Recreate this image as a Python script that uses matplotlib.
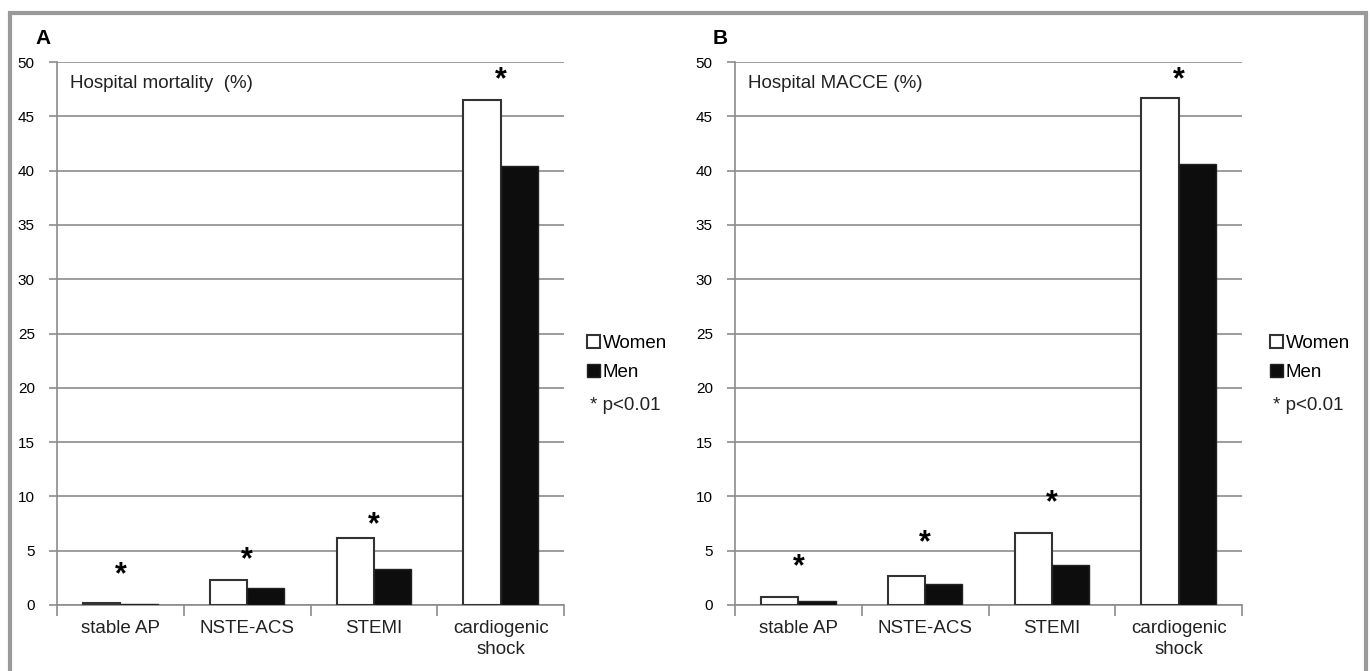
import numpy as np
import matplotlib.pyplot as plt
from matplotlib.patches import Rectangle, Patch

plt.rcParams['font.family'] = ['Liberation Sans', 'DejaVu Sans']

categories = ['stable AP', 'NSTE-ACS', 'STEMI', 'cardiogenic\nshock']

# panel A: hospital mortality (%)
mort_women = [0.2, 2.3, 6.2, 46.5]
mort_men = [0.1, 1.6, 3.3, 40.4]
mort_star = [2.7, 4.1, 7.3, 48.3]

# panel B: hospital MACCE (%)
macce_women = [0.7, 2.7, 6.6, 46.7]
macce_men = [0.35, 1.9, 3.7, 40.6]
macce_star = [3.5, 5.7, 9.4, 48.3]

yticks = np.arange(0, 51, 5)

W, H = 1370, 671
fig = plt.figure(figsize=(W / 100, H / 100), dpi=100)

# grey frame round the figure, bottom edge runs off the image
fig.patches.append(Rectangle((10 / W, -0.05), 1356 / W, 1.05 - 13 / H, transform=fig.transFigure,
                             fill=False, edgecolor='#9a9a9a', linewidth=3))


def panel(left, women, men, star, title, letter, legx):
    ax = fig.add_axes([left / W, 66 / H, 507 / W, 543 / H])
    x = np.arange(len(categories))
    bw = 0.294
    ax.bar(x - bw / 2, women, bw, color='white', edgecolor='#333333', linewidth=1.5, zorder=3)
    ax.bar(x + bw / 2, men, bw, color='#0d0d0d', edgecolor='#222222', linewidth=1.0, zorder=3)
    for xi, s in zip(x, star):
        ax.text(xi, s, '*', ha='center', va='center', fontsize=22, fontweight='bold', zorder=4)

    ax.set_xlim(-0.5, len(categories) - 0.5)
    ax.set_ylim(0, 50)
    ax.set_yticks(yticks)
    ax.yaxis.grid(True, color='#8c8c8c', linewidth=1.2, zorder=0)
    ax.set_axisbelow(True)
    ax.set_xticks(x)
    ax.set_xticklabels(categories, fontsize=13.5, color='#222222', linespacing=1.25)
    ax.set_xticks(np.arange(len(categories) + 1) - 0.5, minor=True)
    ax.tick_params(axis='x', which='major', length=0, pad=11)
    ax.tick_params(axis='x', which='minor', length=8, width=1.2, color='#8c8c8c')
    ax.tick_params(axis='y', length=6, width=1.2, color='#8c8c8c', labelsize=11, pad=10)
    for side in ['top', 'right']:
        ax.spines[side].set_visible(False)
    for side in ['left', 'bottom']:
        ax.spines[side].set_color('#8c8c8c')
        ax.spines[side].set_linewidth(1.2)

    ax.text(0.025, 0.96, title, transform=ax.transAxes, fontsize=13.5, va='center', color='#222222')
    fig.text((left - 22) / W, 1 - 38 / H, letter, fontsize=15, fontweight='bold', va='center')

    handles = [Patch(facecolor='white', edgecolor='#333333', linewidth=1.5),
               Patch(facecolor='#0d0d0d', edgecolor='#222222')]
    ax.legend(handles, ['Women', 'Men'], loc='center left', frameon=False,
              bbox_to_anchor=(legx / W, 1 - 358 / H), bbox_transform=fig.transFigure,
              fontsize=13.5, handlelength=0.7, handleheight=0.7, handletextpad=0.15,
              labelspacing=0.6, borderpad=0, borderaxespad=0)
    fig.text((legx + 3) / W, 1 - 406 / H, '* p<0.01', fontsize=13.5, va='center', color='#222222')
    return ax


panel(57, mort_women, mort_men, mort_star, 'Hospital mortality  (%)', 'A', 587)
panel(735, macce_women, macce_men, macce_star, 'Hospital MACCE (%)', 'B', 1270)

fig.savefig('out.png', dpi=100)
